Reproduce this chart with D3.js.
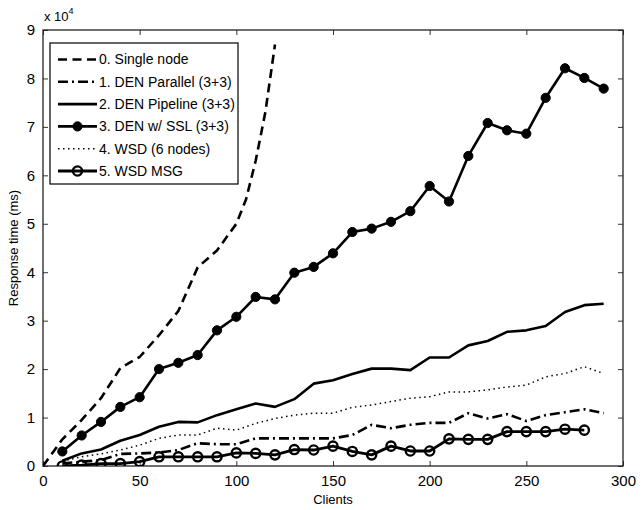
<!DOCTYPE html>
<html>
<head>
<meta charset="utf-8">
<script src="https://d3js.org/d3.v7.min.js"></script>
<style>
  body { margin: 0; background: #fff; }
  svg text { font-family: "Liberation Sans", Arial, sans-serif; fill: #000; }
</style>
</head>
<body>
<div id="chart"></div>
<script>
// values (response time in units of 1e4 ms)
var clients = [10, 20, 30, 40, 50, 60, 70, 80, 90, 100, 110, 120, 130, 140, 150,
               160, 170, 180, 190, 200, 210, 220, 230, 240, 250, 260, 270, 280, 290]

var singleClients = [0, 10, 20, 30, 40, 50, 60, 70, 80, 90, 100, 105, 110, 115, 120]
var singleNode = [0, 0.55, 0.95, 1.4, 2.02, 2.25, 2.7, 3.2, 4.1, 4.45, 5.0, 5.5, 6.3, 7.3, 8.7]

var denParallel = [0.05, 0.09, 0.12, 0.25, 0.26, 0.28, 0.33, 0.47, 0.45, 0.45, 0.57, 0.57, 0.57, 0.57, 0.57,
                   0.64, 0.85, 0.78, 0.85, 0.89, 0.89, 1.09, 0.98, 1.07, 0.93, 1.05, 1.11, 1.17, 1.09]

var denPipeline = [0.11, 0.26, 0.34, 0.52, 0.64, 0.81, 0.91, 0.90, 1.05, 1.17, 1.29, 1.22, 1.38, 1.70, 1.77,
                   1.90, 2.01, 2.01, 1.98, 2.24, 2.24, 2.49, 2.58, 2.77, 2.80, 2.89, 3.18, 3.32, 3.35]

var denSSL = [0.30, 0.63, 0.91, 1.22, 1.42, 2.00, 2.13, 2.29, 2.80, 3.08, 3.49, 3.44, 3.99, 4.11, 4.39,
              4.83, 4.90, 5.04, 5.26, 5.78, 5.46, 6.40, 7.08, 6.93, 6.86, 7.60, 8.21, 8.01, 7.79]

var wsd = [0.10, 0.19, 0.25, 0.33, 0.43, 0.57, 0.64, 0.64, 0.78, 0.74, 0.88, 0.98, 1.05, 1.09, 1.09,
           1.21, 1.26, 1.33, 1.40, 1.43, 1.53, 1.53, 1.57, 1.63, 1.67, 1.84, 1.91, 2.05, 1.91]

var msgClients = [10, 20, 30, 40, 50, 60, 70, 80, 90, 100, 110, 120, 130, 140,
                  150, 160, 170, 180, 190, 200, 210, 220, 230, 240, 250, 260, 270, 280]
var wsdMsg = [0.0, 0.02, 0.05, 0.05, 0.09, 0.19, 0.19, 0.19, 0.19, 0.27, 0.26, 0.23, 0.34, 0.33,
              0.41, 0.30, 0.23, 0.41, 0.31, 0.31, 0.56, 0.55, 0.55, 0.71, 0.71, 0.71, 0.76, 0.74]

var xTicks = [0, 50, 100, 150, 200, 250, 300]
var yTicks = [0, 1, 2, 3, 4, 5, 6, 7, 8, 9]

var legendLabels = ['0. Single node', '1. DEN Parallel (3+3)', '2. DEN Pipeline (3+3)',
                    '3. DEN w/ SSL (3+3)', '4. WSD (6 nodes)', '5. WSD MSG']

// series styles (stroke dash + marker)
var series = [
  {name: legendLabels[0], xs: singleClients, ys: singleNode, dash: '9,5.5', width: 2.6, marker: null},
  {name: legendLabels[1], xs: clients, ys: denParallel, dash: '10,4,2,4', width: 2.6, marker: null},
  {name: legendLabels[2], xs: clients, ys: denPipeline, dash: null, width: 2.6, marker: null},
  {name: legendLabels[3], xs: clients, ys: denSSL, dash: null, width: 2.6, marker: 'filled'},
  {name: legendLabels[4], xs: clients, ys: wsd, dash: '1.5,3.5', width: 1.5, marker: null},
  {name: legendLabels[5], xs: msgClients, ys: wsdMsg, dash: null, width: 2.8, marker: 'open'}
]

var W = 644, H = 510
var margin = {top: 30, right: 21, bottom: 44, left: 43},
    width = W - margin.left - margin.right,
    height = H - margin.top - margin.bottom

var x = d3.scaleLinear().domain([0, 300]).range([0, width])
var y = d3.scaleLinear().domain([0, 9]).range([height, 0])

var svg = d3.select('#chart')
  .append('svg')
  .attr('width', W)
  .attr('height', H)
  .append('g')
  .attr('transform', 'translate(' + margin.left + ',' + margin.top + ')')

// axes with inward ticks on all four sides
svg.append('g')
  .attr('transform', 'translate(0,' + height + ')')
  .call(d3.axisBottom(x).tickValues(xTicks).tickSizeInner(-5).tickSizeOuter(0).tickPadding(9))
svg.append('g')
  .call(d3.axisTop(x).tickValues(xTicks).tickSizeInner(-5).tickSizeOuter(0).tickFormat(''))
svg.append('g')
  .call(d3.axisLeft(y).tickValues(yTicks).tickSizeInner(-5).tickSizeOuter(0).tickPadding(8))
svg.append('g')
  .attr('transform', 'translate(' + width + ',0)')
  .call(d3.axisRight(y).tickValues(yTicks).tickSizeInner(-5).tickSizeOuter(0).tickFormat(''))

svg.selectAll('.tick text').style('font-size', '15px')
svg.selectAll('.domain').remove()
svg.selectAll('.tick line').attr('stroke', '#333')

svg.append('rect')
  .attr('width', width)
  .attr('height', height)
  .attr('fill', 'none')
  .attr('stroke', '#222')
  .attr('stroke-width', 1.3)

// exponent label
var expo = svg.append('text')
  .attr('x', 1)
  .attr('y', -9)
  .style('font-size', '13px')
expo.append('tspan').text('x 10')
expo.append('tspan').attr('dy', -7).style('font-size', '9px').text('4')

// axis titles
svg.append('text')
  .attr('x', width / 2)
  .attr('y', height + 38)
  .attr('text-anchor', 'middle')
  .style('font-size', '13px')
  .text('Clients')

svg.append('text')
  .attr('transform', 'rotate(-90)')
  .attr('x', -height / 2)
  .attr('y', -25)
  .attr('text-anchor', 'middle')
  .style('font-size', '13px')
  .text('Response time (ms)')

var line = d3.line()
  .x(function(d) { return x(d[0]) })
  .y(function(d) { return y(d[1]) })

svg.append('clipPath').attr('id', 'clip')
  .append('rect').attr('width', width).attr('height', height)

var plot = svg.append('g').attr('clip-path', 'url(#clip)')

series.forEach(function(s) {
  var pts = s.xs.map(function(v, i) { return [v, s.ys[i]] })
  plot.append('path')
    .datum(pts)
    .attr('fill', 'none')
    .attr('stroke', '#000')
    .attr('stroke-width', s.width)
    .attr('stroke-dasharray', s.dash)
    .attr('stroke-linejoin', 'round')
    .attr('d', line)

  if (s.marker) {
    plot.selectAll(null)
      .data(pts)
      .enter()
      .append('circle')
      .attr('cx', function(d) { return x(d[0]) })
      .attr('cy', function(d) { return y(d[1]) })
      .attr('r', s.marker == 'filled' ? 4.6 : 4.6)
      .attr('fill', s.marker == 'filled' ? '#000' : 'none')
      .attr('stroke', '#000')
      .attr('stroke-width', s.marker == 'filled' ? 1 : 2.4)
  }
})

// legend
var lg = svg.append('g').attr('transform', 'translate(7,13)')
lg.append('rect')
  .attr('width', 188)
  .attr('height', 141)
  .attr('fill', '#fff')
  .attr('stroke', '#000')
  .attr('stroke-width', 1.2)

var rows = lg.selectAll('.legend')
  .data(series)
  .enter()
  .append('g')
  .attr('class', 'legend')
  .attr('transform', function(d, i) { return 'translate(0,' + (16.5 + i * 22.3) + ')' })

rows.append('line')
  .attr('x1', 8)
  .attr('x2', 47)
  .attr('stroke', '#000')
  .attr('stroke-width', function(d) { return d.width })
  .attr('stroke-dasharray', function(d) { return d.dash })

rows.filter(function(d) { return d.marker })
  .append('circle')
  .attr('cx', 27.5)
  .attr('r', 4.6)
  .attr('fill', function(d) { return d.marker == 'filled' ? '#000' : 'none' })
  .attr('stroke', '#000')
  .attr('stroke-width', function(d) { return d.marker == 'filled' ? 1 : 2.4 })

rows.append('text')
  .attr('x', 49)
  .attr('dy', '0.35em')
  .style('font-size', '14px')
  .text(function(d) { return d.name })
</script>
</body>
</html>
